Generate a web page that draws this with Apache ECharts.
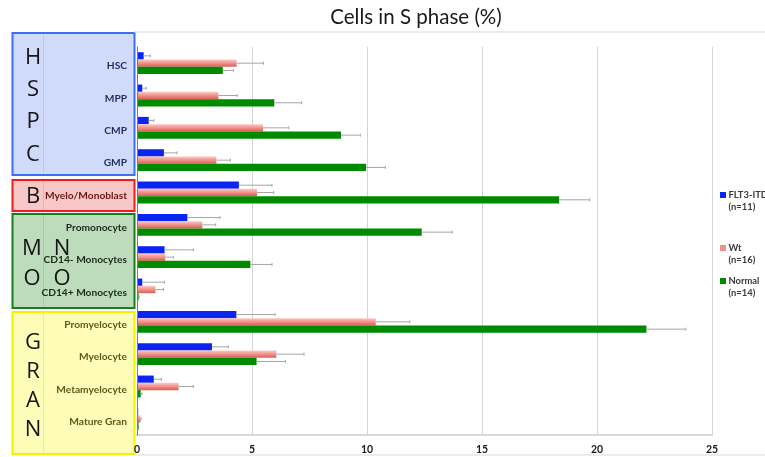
<!DOCTYPE html>
<html>
<head>
<meta charset="utf-8">
<script src="https://cdn.jsdelivr.net/npm/echarts@6/dist/echarts.min.js"></script>
<style>
  html, body { margin: 0; padding: 0; background: #fff; }
  #chart { width: 765px; height: 457px; }
</style>
</head>
<body>
<div id="chart"></div>
<script>
// Cell populations, top to bottom
const categories = ['HSC', 'MPP', 'CMP', 'GMP', 'Myelo/Monoblast', 'Promonocyte',
  'CD14- Monocytes', 'CD14+ Monocytes', 'Promyelocyte', 'Myelocyte', 'Metamyelocyte', 'Mature Gran'];

// Lineage group for each population (drives label colour)
const groupOf = ['HSPC', 'HSPC', 'HSPC', 'HSPC', 'B', 'MONO', 'MONO', 'MONO', 'GRAN', 'GRAN', 'GRAN', 'GRAN'];

// Mean % of cells in S phase and error (SD)
const flt3 = [0.29, 0.23, 0.51, 1.17, 4.43, 2.19, 1.20, 0.23, 4.32, 3.26, 0.73, 0.05];
const flt3Err = [0.29, 0.17, 0.22, 0.57, 1.44, 1.42, 1.25, 0.96, 1.68, 0.71, 0.33, 0.00];
const wt = [4.33, 3.54, 5.48, 3.45, 5.22, 2.84, 1.23, 0.80, 10.38, 6.06, 1.81, 0.15];
const wtErr = [1.17, 0.82, 1.12, 0.61, 0.72, 0.58, 0.35, 0.35, 1.48, 1.20, 0.64, 0.03];
const normal = [3.73, 5.97, 8.87, 9.96, 18.35, 12.38, 4.93, 0.07, 22.15, 5.20, 0.16, 0.07];
const normalErr = [0.47, 1.19, 0.84, 0.84, 1.33, 1.32, 0.94, 0.03, 1.71, 1.25, 0.06, 0.02];

const seriesNames = ['FLT3-ITD', 'Wt', 'Normal'];
const seriesCounts = ['(n=11)', '(n=16)', '(n=14)'];

const xTicks = [0, 5, 10, 15, 20, 25];

const BAR_W = 7.3;
const colors = {
  flt3: '#0a24f2',
  wt: new echarts.graphic.LinearGradient(0, 0, 0, 1, [
    { offset: 0, color: '#fbc9c4' },
    { offset: 0.5, color: '#f0918b' },
    { offset: 1, color: '#dc5c56' }
  ]),
  normal: '#008a00'
};
const labelColors = { HSPC: '#1f2d5c', B: '#6a1616', MONO: '#1c2a1c', GRAN: '#5c5c1a' };

// Error whiskers: line from bar end to mean + err with a small cap, offset to its bar slot
function errorSeries(name, means, errs, slot) {
  return {
    type: 'custom',
    name: name + ' err',
    z: 4,
    data: means.map((m, i) => [i, m, m + errs[i]]),
    encode: { x: [1, 2], y: 0 },
    renderItem: function (params, api) {
      const cat = api.value(0);
      const start = api.coord([api.value(1), cat]);
      const end = api.coord([api.value(2), cat]);
      const y = start[1] + (slot - 1) * BAR_W;
      if (end[0] - start[0] < 0.5) return null;
      const st = { stroke: '#a6a6a6', lineWidth: 1 };
      return {
        type: 'group',
        children: [
          { type: 'line', shape: { x1: start[0], y1: y, x2: end[0], y2: y }, style: st },
          { type: 'line', shape: { x1: end[0], y1: y - 1.5, x2: end[0], y2: y + 1.5 }, style: st }
        ]
      };
    }
  };
}

function bar(name, values, color) {
  return {
    type: 'bar',
    name: name,
    data: values,
    barWidth: BAR_W,
    barGap: '0%',
    itemStyle: { color: color },
    z: 3
  };
}

// Lineage boxes on the left side
const boxes = [
  { top: 33, bottom: 175, stroke: '#3f6ef2', fill: '#d0dbfb', inner: '#b9c8f4' },
  { top: 180, bottom: 211, stroke: '#ee1c1c', fill: '#f8c8c8', inner: '#e8b0b0' },
  { top: 214, bottom: 308, stroke: '#1d7a1d', fill: '#bcdcbc', inner: '#a4cca4' },
  { top: 312, bottom: 454, stroke: '#f2f200', fill: '#fdfdb8', inner: '#ecec9c' }
];
const bigLetters = [
  ['H', 33, 58], ['S', 33, 90], ['P', 33, 122], ['C', 33, 155],
  ['B', 33, 197],
  ['M', 32, 249], ['N', 62, 249], ['O', 32, 279], ['O', 62, 279],
  ['G', 33, 343], ['R', 33, 372], ['A', 33, 401], ['N', 33, 430]
];

const graphics = [];
// chart frame lines
graphics.push({ type: 'line', shape: { x1: 134, y1: 32, x2: 765, y2: 32 }, style: { stroke: '#d9d9d9', lineWidth: 1 }, silent: true });
graphics.push({ type: 'line', shape: { x1: 134, y1: 455, x2: 765, y2: 455 }, style: { stroke: '#d9d9d9', lineWidth: 1 }, silent: true });
boxes.forEach(b => {
  graphics.push({
    type: 'rect', z: -5,
    shape: { x: 12.5, y: b.top, width: 122, height: b.bottom - b.top },
    style: { fill: b.fill, stroke: b.stroke, lineWidth: 2 }
  });
  graphics.push({
    type: 'line', z: -4,
    shape: { x1: 43.5, y1: b.top + 1, x2: 43.5, y2: b.bottom - 1 },
    style: { stroke: b.inner, lineWidth: 1 }
  });
});
bigLetters.forEach(([t, x, y]) => {
  graphics.push({
    type: 'text', z: -3, x: x, y: y,
    style: { text: t, fill: '#151515', font: '22px "Open Sans"', textAlign: 'center', textVerticalAlign: 'middle' }
  });
});
// Legend
const legendSwatch = [colors.flt3, '#f0918b', colors.normal];
const legendY = [195, 248, 281];
seriesNames.forEach((n, i) => {
  graphics.push({ type: 'rect', shape: { x: 720, y: legendY[i] - 3, width: 6, height: 6 }, style: { fill: legendSwatch[i] } });
  graphics.push({ type: 'text', x: 728.5, y: legendY[i], style: { text: n, fill: '#3a3a3a', font: 'bold 9.4px Lato', textVerticalAlign: 'middle' } });
  graphics.push({ type: 'text', x: 728.5, y: legendY[i] + 11.5, style: { text: seriesCounts[i], fill: '#3a3a3a', font: 'bold 9.4px Lato', textVerticalAlign: 'middle' } });
});

const chart = echarts.init(document.getElementById('chart'), null, { renderer: 'canvas' });
chart.setOption({
  animation: false,
  backgroundColor: '#ffffff',
  title: {
    text: 'Cells in S phase (%)',
    left: 411,
    top: 2,
    textAlign: 'center',
    textStyle: { fontFamily: 'Lato', fontWeight: 'normal', fontSize: 20.5, color: '#1a1a1a' }
  },
  grid: { left: 137, right: 53, top: 47, height: 388, containLabel: false },
  xAxis: {
    type: 'value',
    min: 0, max: 25, interval: 5,
    axisLine: { show: true, lineStyle: { color: '#d9d9d9', width: 2 } },
    axisTick: { show: false },
    splitLine: { show: true, lineStyle: { color: '#d4d4d4', width: 1 } },
    axisLabel: {
      margin: 9,
      color: '#1a1a1a', fontFamily: 'Lato', fontWeight: 'bold', fontSize: 10.5,
      formatter: v => xTicks.includes(v) ? String(v) : ''
    }
  },
  yAxis: {
    type: 'category',
    data: categories,
    inverse: true,
    z: 5,
    axisLine: { show: true, lineStyle: { color: '#7a7a7a', width: 1 } },
    axisTick: { show: false },
    splitLine: { show: false },
    axisLabel: {
      margin: 10,
      fontFamily: 'Lato', fontWeight: 'bold', fontSize: 10.2,
      formatter: v => '{l|' + v + '}',
      rich: { l: { padding: [6, 0, 0, 0], fontFamily: 'Lato', fontWeight: 'bold', fontSize: 10.2 } },
      color: (v, i) => labelColors[groupOf[i]]
    }
  },
  legend: { show: false },
  graphic: graphics,
  series: [
    bar('FLT3-ITD', flt3, colors.flt3),
    bar('Wt', wt, colors.wt),
    bar('Normal', normal, colors.normal),
    errorSeries('FLT3-ITD', flt3, flt3Err, 0),
    errorSeries('Wt', wt, wtErr, 1),
    errorSeries('Normal', normal, normalErr, 2)
  ]
});
</script>
</body>
</html>
